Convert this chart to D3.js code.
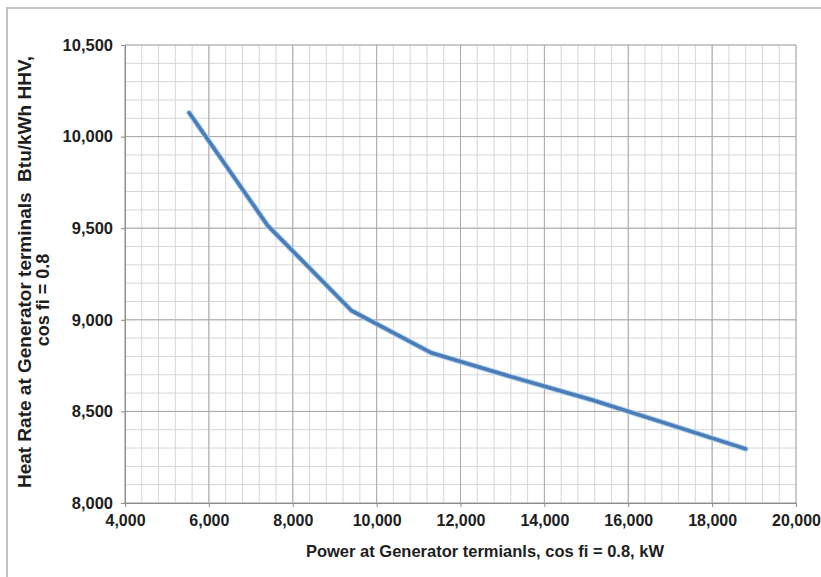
<!DOCTYPE html>
<html>
<head>
<meta charset="utf-8">
<script src="https://cdn.jsdelivr.net/npm/d3@7"></script>
<style>
    body { margin: 0; background: #fff; }
    svg text { font-family: "Liberation Sans", Arial, sans-serif; font-weight: bold; fill: #1e1e1e; }
</style>
</head>
<body>
<div id="chart"></div>
<script>
// values
const powerKW = [5530, 7400, 9400, 11300, 13200, 15100, 16900, 18800];
const heatRate = [10130, 9515, 9050, 8820, 8690, 8565, 8435, 8295];
const xTicks = [4000, 6000, 8000, 10000, 12000, 14000, 16000, 18000, 20000];
const yTicks = [8000, 8500, 9000, 9500, 10000, 10500];
const xTitle = "Power at Generator termianls, cos fi = 0.8, kW";
const yTitleLine1 = "Heat Rate at Generator terminals  Btu/kWh HHV,";
const yTitleLine2 = "cos fi = 0.8";

const margin = { top: 45, right: 25, bottom: 74, left: 125 };
const width = 821 - margin.left - margin.right;
const height = 577 - margin.top - margin.bottom;

const svg = d3.select("#chart").append("svg")
    .attr("width", 821)
    .attr("height", 577);

// outer chart frame (only left/top edges show in the picture)
svg.append("rect")
    .attr("x", 7).attr("y", 8)
    .attr("width", 860).attr("height", 620)
    .attr("fill", "none")
    .attr("stroke", "#c4c4c4")
    .attr("stroke-width", 2);

const g = svg.append("g")
    .attr("transform", `translate(${margin.left},${margin.top})`);

const x = d3.scaleLinear().domain([4000, 20000]).range([0, width]);
const y = d3.scaleLinear().domain([8000, 10500]).range([height, 0]);

// minor grid
g.append("g").selectAll("line")
    .data(d3.range(4000, 20001, 400))
    .join("line")
    .attr("x1", d => x(d)).attr("x2", d => x(d))
    .attr("y1", 0).attr("y2", height)
    .attr("stroke", "#d6d6d6");
g.append("g").selectAll("line")
    .data(d3.range(8000, 10501, 100))
    .join("line")
    .attr("x1", 0).attr("x2", width)
    .attr("y1", d => y(d)).attr("y2", d => y(d))
    .attr("stroke", "#d6d6d6");

// major grid
g.append("g").selectAll("line")
    .data(xTicks)
    .join("line")
    .attr("x1", d => x(d)).attr("x2", d => x(d))
    .attr("y1", 0).attr("y2", height)
    .attr("stroke", "#a8a8a8");
g.append("g").selectAll("line")
    .data(yTicks)
    .join("line")
    .attr("x1", 0).attr("x2", width)
    .attr("y1", d => y(d)).attr("y2", d => y(d))
    .attr("stroke", "#a8a8a8");

// axes
const xAxis = g.append("g")
    .attr("transform", `translate(0,${height})`)
    .call(d3.axisBottom(x).tickValues(xTicks).tickSize(4).tickPadding(8).tickFormat(d3.format(",")));
const yAxis = g.append("g")
    .call(d3.axisLeft(y).tickValues(yTicks).tickSize(4).tickPadding(8).tickFormat(d3.format(",")));

[xAxis, yAxis].forEach(a => {
    a.select(".domain").attr("stroke", "#8c8c8c");
    a.selectAll(".tick line").attr("stroke", "#8c8c8c");
    a.selectAll("text").style("font-size", "16px").attr("fill", "#1e1e1e");
});
yAxis.selectAll("text").style("font-size", "16.5px");

// the curve
const line = d3.line()
    .x((d, i) => x(powerKW[i]))
    .y(d => y(d));

g.append("path")
    .datum(heatRate)
    .attr("fill", "none")
    .attr("stroke", "#a9cbe9")
    .attr("stroke-width", 5.5)
    .attr("stroke-linejoin", "round")
    .attr("stroke-linecap", "round")
    .attr("d", line);
g.append("path")
    .datum(heatRate)
    .attr("fill", "none")
    .attr("stroke", "#4a7cb8")
    .attr("stroke-width", 3.5)
    .attr("stroke-linejoin", "round")
    .attr("stroke-linecap", "round")
    .attr("d", line);

// titles
svg.append("text")
    .attr("x", 485)
    .attr("y", 557)
    .attr("text-anchor", "middle")
    .style("font-size", "16.5px")
    .text(xTitle);

svg.append("text")
    .attr("transform", "translate(31,272) rotate(-90)")
    .attr("text-anchor", "middle")
    .style("font-size", "19px")
    .style("white-space", "pre")
    .text(yTitleLine1);
svg.append("text")
    .attr("transform", "translate(49,300) rotate(-90)")
    .attr("text-anchor", "middle")
    .style("font-size", "18px")
    .text(yTitleLine2);
</script>
</body>
</html>
